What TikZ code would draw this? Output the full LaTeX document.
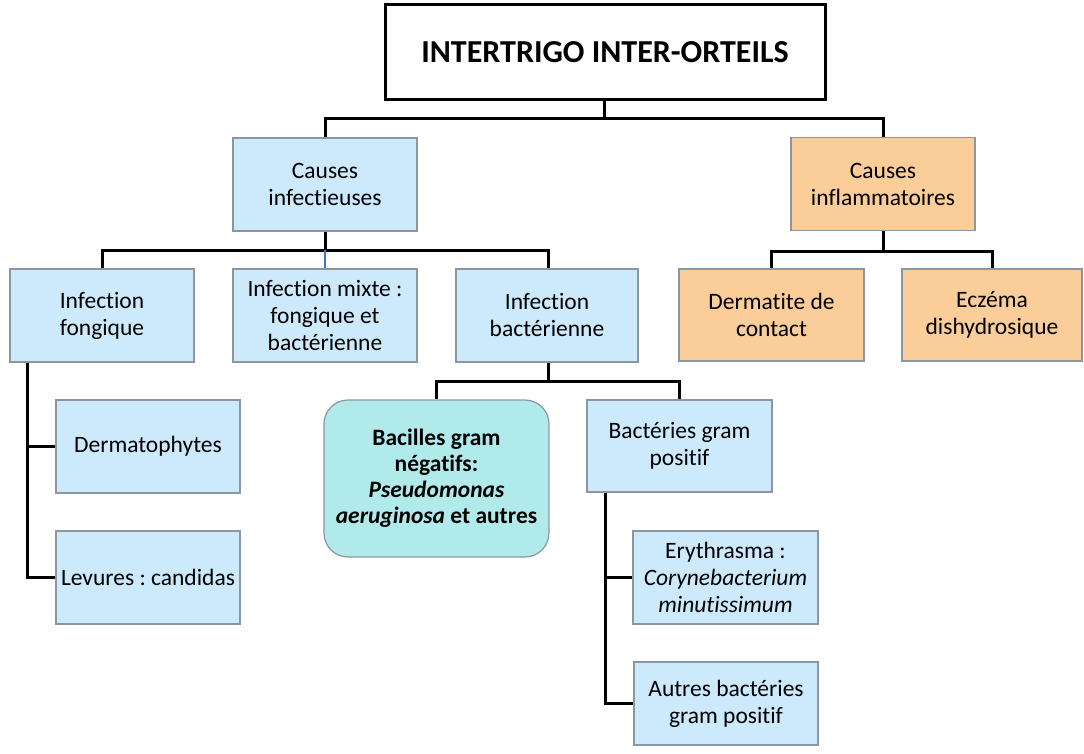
\documentclass[tikz,border=0pt]{standalone}
\usepackage{fontspec}
\setmainfont{Carlito}[Ligatures=NoCommon]
\usepackage{tikz}
\usetikzlibrary{positioning,calc}
\frenchspacing
\definecolor{boxblue}{RGB}{204,234,252}
\definecolor{boxorange}{RGB}{251,205,152}
\definecolor{boxteal}{RGB}{176,234,234}
\definecolor{boxgray}{RGB}{140,150,160}
\definecolor{linkblue}{RGB}{68,114,196}
\tikzset{
    %Define style for the title box
    titlenode/.style={
             rectangle,
             draw=black, line width=3pt,
             fill=white,
             minimum width=440pt, minimum height=95pt,
             font=\fontsize{32}{38}\selectfont\bfseries},
    %Define style for boxes
    bluenode/.style={
             rectangle,
             draw=boxgray, line width=1.2pt,
             fill=boxblue,
             align=center, inner sep=2pt,
             minimum width=184pt, minimum height=93pt,
             font=\fontsize{23.5}{27}\selectfont},
    orangenode/.style={
             bluenode,
             fill=boxorange},
    tealnode/.style={
             bluenode,
             fill=boxteal,
             rounded corners=24pt,
             minimum width=225pt, minimum height=157pt,
             font=\fontsize{23.5}{26}\selectfont\bfseries},
    % Define connector style
    treeline/.style={
            line width=3pt,
            black},
    mixline/.style={
            line width=2.2pt,
            linkblue}
}

\begin{document}
\begin{tikzpicture}[x=1pt, y=-1pt]
 \useasboundingbox (0,0) rectangle (1084,754);
 \node[titlenode] (title) at (605,52.5) {INTERTRIGO INTER-ORTEILS};
 \node[bluenode] (infect) at (325,184.5) {Causes\\infectieuses};
 \node[orangenode] (inflam) at (883,184) {Causes\\inflammatoires};
 \node[bluenode] (fong) at (102,315.5) {Infection\\fongique};
 \node[bluenode] (mixte) at (325,315.5) {Infection mixte :\\fongique et\\bactérienne};
 \node[bluenode, minimum width=182pt] (bact) at (547,315.5) {Infection\\bactérienne};
 \node[orangenode, minimum width=185pt, minimum height=92pt] (derm) at (771.5,315) {Dermatite de\\contact};
 \node[orangenode, minimum width=180pt, minimum height=92pt] (eczema) at (992,315) {Eczéma\\dishydrosique};
 \node[bluenode] (dermato) at (148,446.5) {Dermatophytes};
 \node[bluenode] (levures) at (148,577.5) {Levures : candidas};
 \node[tealnode] (bacilles) at (436.5,478.5) {Bacilles gram\\négatifs:\\\textit{Pseudomonas}\\\textit{aeruginosa} et autres};
 \node[bluenode, minimum width=185pt, minimum height=92pt] (grampos) at (679.5,446) {Bactéries gram\\positif};
 \node[bluenode, minimum width=185pt] (erythr) at (725.5,577.5) {Erythrasma :\\\textit{Corynebacterium}\\\textit{minutissimum}};
 \node[bluenode, minimum width=184pt, minimum height=83pt] (autres) at (726,703.5) {Autres bactéries\\gram positif};
 % junctions
 \coordinate (h1) at (604,119);
 \coordinate (h2) at (325,250);
 \coordinate (h3) at (883,251);
 \coordinate (h4) at (548,381);
 \draw[treeline] (title.south -| h1) -- (h1);
 \draw[treeline] (infect.north) |- (h1) -| (inflam.north);
 \draw[treeline] (infect.south) -- (h2);
 \draw[treeline] (fong.north) |- (h2) -| (bact.north -| h4);
 \draw[mixline] (h2) -- (mixte.north);
 \draw[treeline] (inflam.south) -- (h3);
 \draw[treeline] (derm.north) |- (h3) -| (eczema.north);
 \draw[treeline] (bact.south -| h4) -- (h4);
 \draw[treeline] (bacilles.north) |- (h4) -| (grampos.north);
 \draw[treeline] ([xshift=18pt]fong.south west) |- (levures.west);
 \draw[treeline] ([xshift=18pt]fong.south west |- dermato.west) -- (dermato.west);
 \draw[treeline] ([xshift=19pt]grampos.south west) |- (autres.west);
 \draw[treeline] ([xshift=19pt]grampos.south west |- erythr.west) -- (erythr.west);
\end{tikzpicture}
\end{document}
